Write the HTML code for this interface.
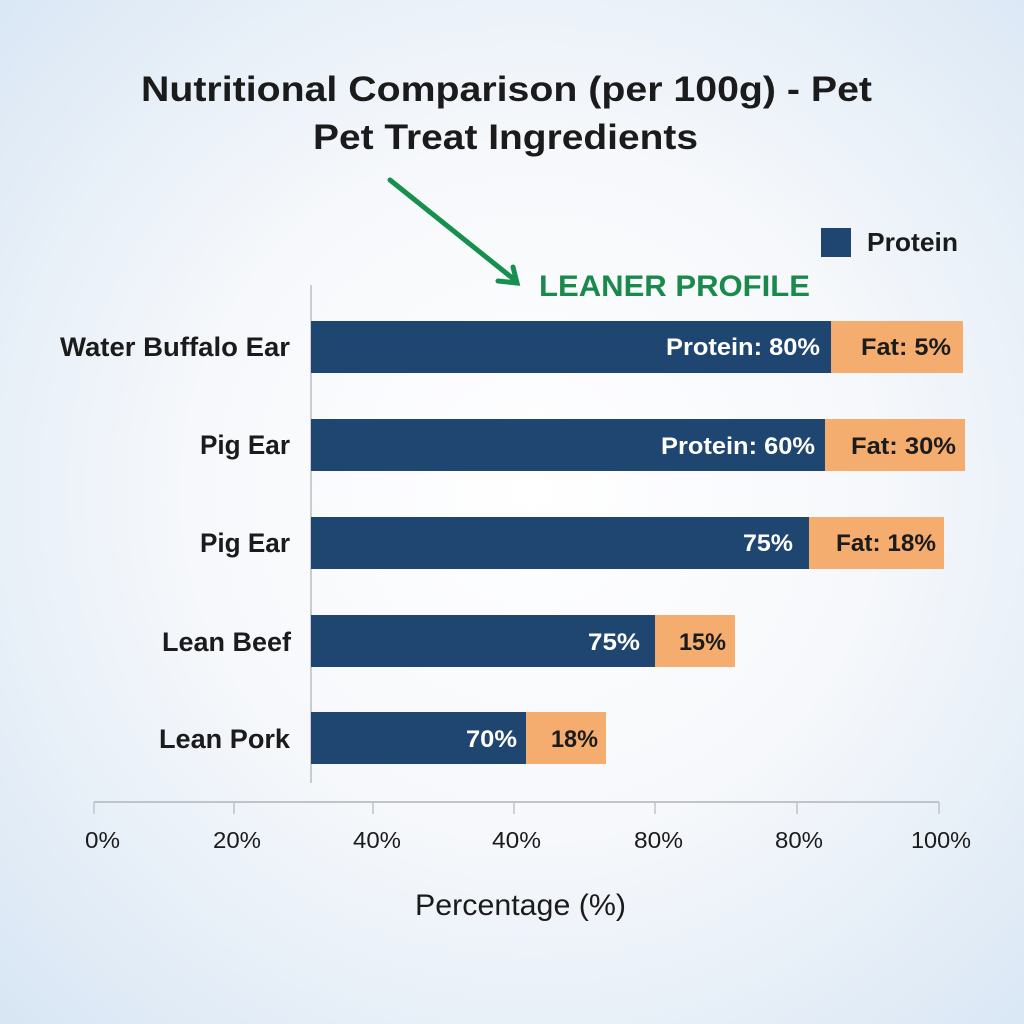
<!DOCTYPE html>
<html>
<head>
<meta charset="utf-8">
<style>
  html, body { margin: 0; padding: 0; width: 1024px; height: 1024px; overflow: hidden; }
  svg { display: block; }
  text { font-family: "Liberation Sans", "DejaVu Sans", sans-serif; }
</style>
</head>
<body>
<svg width="1024" height="1024" viewBox="0 0 1024 1024" xmlns="http://www.w3.org/2000/svg">
  <defs>
    <radialGradient id="bg" cx="52%" cy="48%" r="75%">
      <stop offset="0%" stop-color="#ffffff"/>
      <stop offset="45%" stop-color="#f6f8fb"/>
      <stop offset="100%" stop-color="#d6e5f4"/>
    </radialGradient>
  </defs>
  <rect x="0" y="0" width="1024" height="1024" fill="url(#bg)"/>

  <!-- Title -->
  <text x="141" y="101" font-size="35" font-weight="bold" fill="#1b1b1b" textLength="731" lengthAdjust="spacingAndGlyphs">Nutritional Comparison (per 100g) - Pet</text>
  <text x="313" y="149" font-size="35" font-weight="bold" fill="#1b1b1b" textLength="385" lengthAdjust="spacingAndGlyphs">Pet Treat Ingredients</text>

  <!-- Arrow -->
  <g stroke="#17904f" stroke-width="5" stroke-linecap="round" fill="none">
    <line x1="390" y1="180" x2="516" y2="281"/>
    <polyline points="498,281 517,283 513,267"/>
  </g>
  <text x="539" y="296" font-size="30" font-weight="bold" fill="#1a8a4c" textLength="271" lengthAdjust="spacingAndGlyphs">LEANER PROFILE</text>

  <!-- Legend -->
  <rect x="821" y="228" width="30" height="29" fill="#1f4670"/>
  <text x="867" y="251" font-size="26" font-weight="bold" fill="#1b1b1b" textLength="91" lengthAdjust="spacingAndGlyphs">Protein</text>

  <!-- Y axis line -->
  <line x1="311" y1="285" x2="311" y2="783" stroke="#b9bec5" stroke-width="1.5"/>

  <!-- Bars -->
  <rect x="311" y="321" width="520" height="52" fill="#1f4670"/>
  <rect x="831" y="321" width="132" height="52" fill="#f4ad6f"/>

  <rect x="311" y="419" width="514" height="52" fill="#1f4670"/>
  <rect x="825" y="419" width="140" height="52" fill="#f4ad6f"/>

  <rect x="311" y="517" width="498" height="52" fill="#1f4670"/>
  <rect x="809" y="517" width="135" height="52" fill="#f4ad6f"/>

  <rect x="311" y="615" width="344" height="52" fill="#1f4670"/>
  <rect x="655" y="615" width="80" height="52" fill="#f4ad6f"/>

  <rect x="311" y="712" width="215" height="52" fill="#1f4670"/>
  <rect x="526" y="712" width="80" height="52" fill="#f4ad6f"/>

  <!-- In-bar labels -->
  <g font-size="24" font-weight="bold">
    <text x="666" y="355" fill="#ffffff" textLength="154" lengthAdjust="spacingAndGlyphs">Protein: 80%</text>
    <text x="861" y="355" fill="#1b1b1b" textLength="90" lengthAdjust="spacingAndGlyphs">Fat: 5%</text>

    <text x="661" y="454" fill="#ffffff" textLength="154" lengthAdjust="spacingAndGlyphs">Protein: 60%</text>
    <text x="851" y="454" fill="#1b1b1b" textLength="105" lengthAdjust="spacingAndGlyphs">Fat: 30%</text>

    <text x="743" y="551" fill="#ffffff" textLength="50" lengthAdjust="spacingAndGlyphs">75%</text>
    <text x="836" y="551" fill="#1b1b1b" textLength="100" lengthAdjust="spacingAndGlyphs">Fat: 18%</text>

    <text x="588" y="650" fill="#ffffff" textLength="52" lengthAdjust="spacingAndGlyphs">75%</text>
    <text x="679" y="650" fill="#1b1b1b" textLength="47" lengthAdjust="spacingAndGlyphs">15%</text>

    <text x="466" y="747" fill="#ffffff" textLength="51" lengthAdjust="spacingAndGlyphs">70%</text>
    <text x="551" y="747" fill="#1b1b1b" textLength="47" lengthAdjust="spacingAndGlyphs">18%</text>
  </g>

  <!-- Y labels -->
  <g font-size="27" font-weight="bold" fill="#1b1b1b">
    <text x="60" y="356" textLength="230" lengthAdjust="spacingAndGlyphs">Water Buffalo Ear</text>
    <text x="200" y="454" textLength="90" lengthAdjust="spacingAndGlyphs">Pig Ear</text>
    <text x="200" y="552" textLength="90" lengthAdjust="spacingAndGlyphs">Pig Ear</text>
    <text x="162" y="651" textLength="129" lengthAdjust="spacingAndGlyphs">Lean Beef</text>
    <text x="159" y="748" textLength="131" lengthAdjust="spacingAndGlyphs">Lean Pork</text>
  </g>

  <!-- X axis -->
  <line x1="94" y1="802" x2="939" y2="802" stroke="#bfc4ca" stroke-width="2"/>
  <g stroke="#bfc4ca" stroke-width="1.5">
    <line x1="94" y1="802" x2="94" y2="814"/>
    <line x1="234" y1="802" x2="234" y2="814"/>
    <line x1="373" y1="802" x2="373" y2="814"/>
    <line x1="514" y1="802" x2="514" y2="814"/>
    <line x1="655" y1="802" x2="655" y2="814"/>
    <line x1="797" y1="802" x2="797" y2="814"/>
    <line x1="939" y1="802" x2="939" y2="814"/>
  </g>
  <g font-size="23" fill="#1b1b1b">
    <text x="85" y="848" textLength="35" lengthAdjust="spacingAndGlyphs">0%</text>
    <text x="213" y="848" textLength="48" lengthAdjust="spacingAndGlyphs">20%</text>
    <text x="353" y="848" textLength="48" lengthAdjust="spacingAndGlyphs">40%</text>
    <text x="492" y="848" textLength="49" lengthAdjust="spacingAndGlyphs">40%</text>
    <text x="634" y="848" textLength="49" lengthAdjust="spacingAndGlyphs">80%</text>
    <text x="775" y="848" textLength="48" lengthAdjust="spacingAndGlyphs">80%</text>
    <text x="911" y="848" textLength="60" lengthAdjust="spacingAndGlyphs">100%</text>
  </g>
  <text x="415" y="915" font-size="30" fill="#1b1b1b" textLength="211" lengthAdjust="spacingAndGlyphs">Percentage (%)</text>
</svg>
</body>
</html>
